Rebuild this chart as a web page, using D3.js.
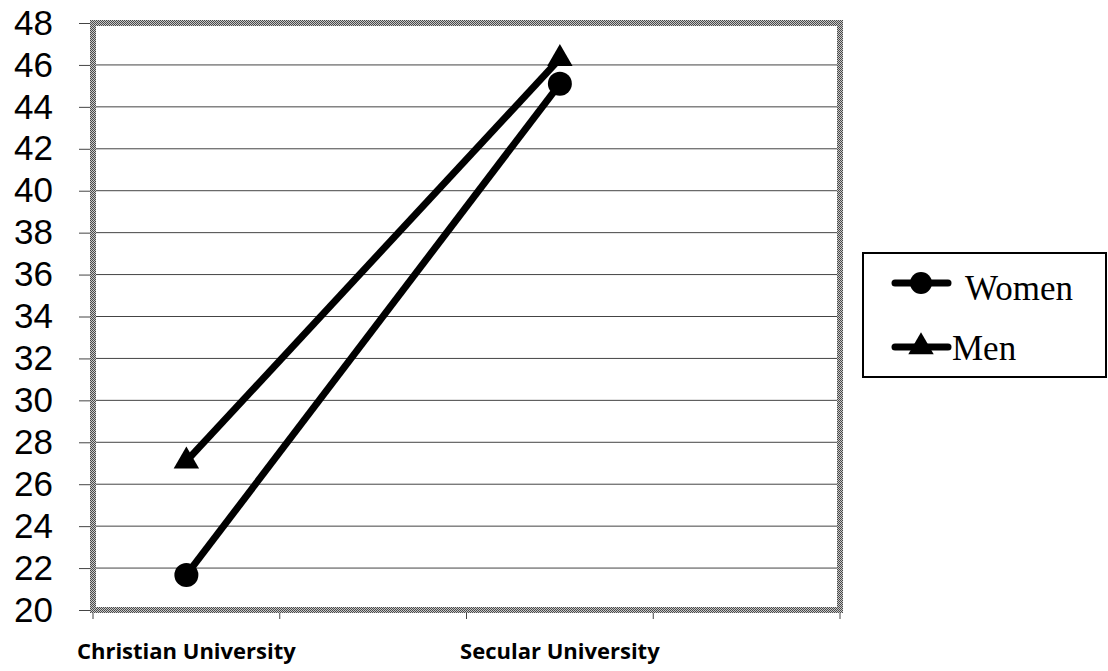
<!DOCTYPE html>
<html><head><meta charset="utf-8">
<script src="https://cdn.jsdelivr.net/npm/d3@7"></script>
<style>
html,body{margin:0;padding:0;background:#fff;}
svg{display:block;}
</style></head>
<body>
<svg id="chart" width="1108" height="671"></svg>
<script>
const categories = ["Christian University", "Secular University"];
const slots = ["Christian University", "gap1", "Secular University", "gap2"];
const women = [21.67, 45.1];
const men = [27.1, 46.3];
const seriesNames = ["Women", "Men"];
const yTicks = [20,22,24,26,28,30,32,34,36,38,40,42,44,46,48];

const svg = d3.select("#chart");
const pLeft = 93, pRight = 840, pTop = 23, pBottom = 610;

const defs = svg.append("defs");
const pat = defs.append("pattern").attr("id","checker").attr("width",2).attr("height",2)
  .attr("patternUnits","userSpaceOnUse");
pat.append("rect").attr("width",2).attr("height",2).attr("fill","#c8c8c8");
pat.append("rect").attr("width",1).attr("height",1).attr("fill","#4a4a4a");
pat.append("rect").attr("x",1).attr("y",1).attr("width",1).attr("height",1).attr("fill","#4a4a4a");

const x = d3.scaleBand().domain(slots).range([pLeft, pRight]).padding(0);
const y = d3.scaleLinear().domain([20,48]).range([pBottom, pTop]);

// gridlines
svg.append("g").selectAll("line").data(yTicks.filter(d=>d>20 && d<48)).join("line")
  .attr("x1", pLeft).attr("x2", pRight)
  .attr("y1", d=>y(d)).attr("y2", d=>y(d))
  .attr("stroke","#444").attr("stroke-width",1);

// y axis
const yAxis = d3.axisLeft(y).tickValues(yTicks).tickSize(14).tickPadding(26).tickFormat(d3.format("d"));
const gy = svg.append("g").attr("transform",`translate(${pLeft},0)`).call(yAxis);
gy.select(".domain").remove();
gy.selectAll(".tick line").attr("stroke","#444");
gy.selectAll(".tick text").attr("font-family","'Liberation Sans', Arial, sans-serif").attr("font-size",35).attr("fill","#000");

// x ticks at band edges
const edges = slots.map(s=>x(s)).concat([x.range()[1]]);
svg.append("g").selectAll("line").data(edges).join("line")
  .attr("x1",d=>d).attr("x2",d=>d).attr("y1",pBottom).attr("y2",pBottom+9)
  .attr("stroke","#444").attr("stroke-width",1);

// x labels
svg.append("g").selectAll("text").data(categories).join("text")
  .attr("x", d=>x(d)+x.bandwidth()/2).attr("y", 659)
  .attr("text-anchor","middle")
  .attr("font-family","'Open Sans', sans-serif").attr("font-weight","bold").attr("font-size",22)
  .attr("fill","#000").text(d=>d);

// plot frame
svg.append("rect").attr("x",pLeft).attr("y",pTop).attr("width",pRight-pLeft).attr("height",pBottom-pTop)
  .attr("fill","none").attr("stroke","url(#checker)").attr("stroke-width",6);

const line = d3.line().x((d,i)=>x(categories[i])+x.bandwidth()/2).y(d=>y(d));
const triangle = d3.symbol().type(d3.symbolTriangle).size(280);

// lines
[women, men].forEach(vals=>{
  svg.append("path").datum(vals).attr("d", line)
    .attr("fill","none").attr("stroke","#000").attr("stroke-width",7);
});
// markers
svg.append("g").selectAll("circle").data(women).join("circle")
  .attr("cx",(d,i)=>x(categories[i])+x.bandwidth()/2).attr("cy",d=>y(d)).attr("r",12).attr("fill","#000");
svg.append("g").selectAll("path").data(men).join("path")
  .attr("d", triangle)
  .attr("transform",(d,i)=>`translate(${x(categories[i])+x.bandwidth()/2},${y(d)})`).attr("fill","#000");

// legend
const lg = svg.append("g");
lg.append("rect").attr("x",863).attr("y",253).attr("width",243).attr("height",124)
  .attr("fill","#fff").attr("stroke","#000").attr("stroke-width",2);
const items = [{name:seriesNames[0], y:283, tx:965, dy:17},{name:seriesNames[1], y:347, tx:952, dy:13}];
items.forEach((it,i)=>{
  lg.append("line").attr("x1",895).attr("x2",948).attr("y1",it.y).attr("y2",it.y)
    .attr("stroke","#000").attr("stroke-width",7).attr("stroke-linecap","round");
  if(i===0) lg.append("circle").attr("cx",921).attr("cy",it.y).attr("r",11).attr("fill","#000");
  else lg.append("path").attr("d",triangle).attr("transform",`translate(921,${it.y})`).attr("fill","#000");
  lg.append("text").attr("x",it.tx).attr("y",it.y+it.dy).attr("font-family","'Liberation Serif', serif")
    .attr("font-size",35).attr("fill","#000").text(it.name);
});
</script>
</body></html>
